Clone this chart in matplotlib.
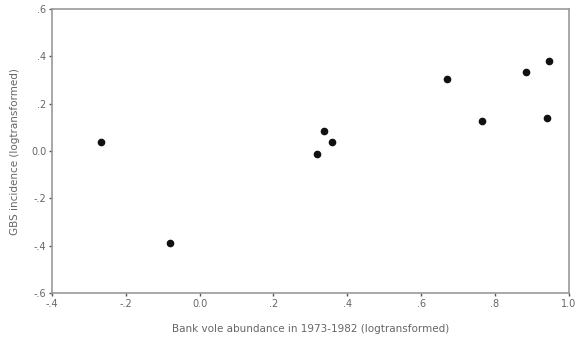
import matplotlib.pyplot as plt
from matplotlib.ticker import FixedLocator, FixedFormatter

# Data (logtransformed values)
vole_abundance = [-0.267, -0.080, 0.337, 0.359, 0.319, 0.669, 0.765, 0.883, 0.945, 0.940]
incidence = [0.037, -0.390, 0.085, 0.038, -0.014, 0.304, 0.128, 0.334, 0.380, 0.138]

x_ticks = [-0.4, -0.2, 0.0, 0.2, 0.4, 0.6, 0.8, 1.0]
x_labels = ['-.4', '-.2', '0.0', '.2', '.4', '.6', '.8', '1.0']
y_ticks = [-0.6, -0.4, -0.2, 0.0, 0.2, 0.4, 0.6]
y_labels = ['-.6', '-.4', '-.2', '0.0', '.2', '.4', '.6']

text_color = '#666666'
spine_color = '#999999'

fig = plt.figure(figsize=(5.84, 3.49), dpi=100)
ax = fig.add_axes([0.089, 0.160, 0.885, 0.814])

ax.plot(vole_abundance, incidence, linestyle='none', marker='o',
        markersize=4.5, color='#111111')

ax.set_xlim(-0.4, 1.0)
ax.set_ylim(-0.6, 0.6)
ax.xaxis.set_major_locator(FixedLocator(x_ticks))
ax.xaxis.set_major_formatter(FixedFormatter(x_labels))
ax.yaxis.set_major_locator(FixedLocator(y_ticks))
ax.yaxis.set_major_formatter(FixedFormatter(y_labels))

for side in ax.spines:
    ax.spines[side].set_color(spine_color)
    ax.spines[side].set_linewidth(1.2)

ax.tick_params(axis='both', length=2, width=1, color='#555555',
               labelsize=7, labelcolor=text_color, pad=2)

ax.set_xlabel('Bank vole abundance in 1973-1982 (logtransformed)',
              fontsize=7.5, color=text_color, labelpad=11)
ax.set_ylabel('GBS incidence (logtransformed)',
              fontsize=7.5, color=text_color, labelpad=8)

plt.savefig('out.png', dpi=100)
